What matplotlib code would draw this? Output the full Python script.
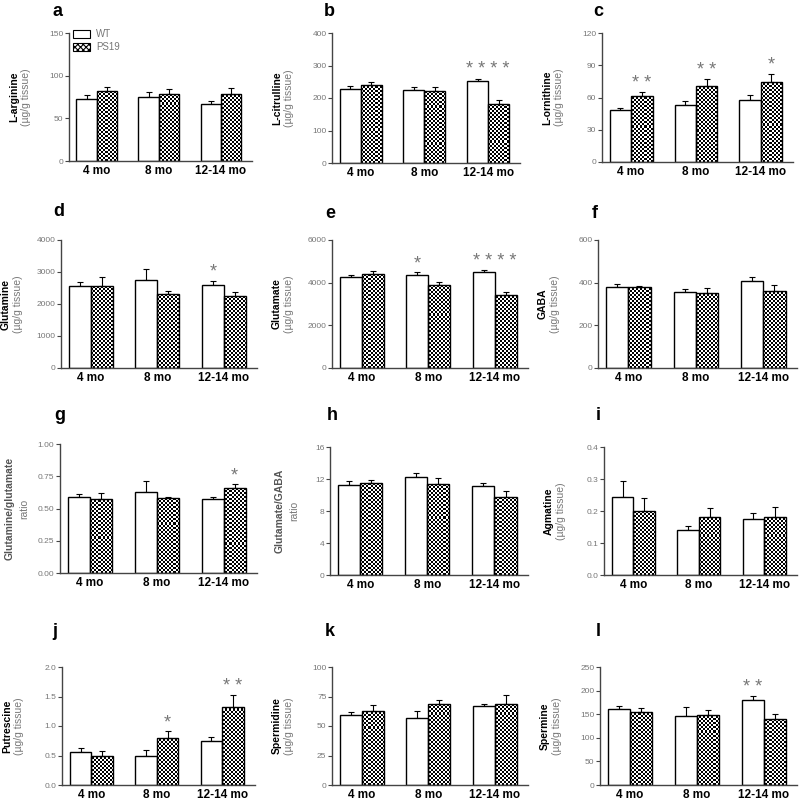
import matplotlib
matplotlib.use("Agg")
import matplotlib.pyplot as plt
import numpy as np
from matplotlib.patches import Patch

plt.rcParams["font.family"] = ["Liberation Sans", "DejaVu Sans"]
plt.rcParams["hatch.linewidth"] = 0.8

groups = ["4 mo", "8 mo", "12-14 mo"]
series = ["WT", "PS19"]
letters = ["a", "b", "c", "d", "e", "f", "g", "h", "i", "j", "k", "l"]
names = ["L-arginine", "L-citrulline", "L-ornithine", "Glutamine", "Glutamate", "GABA",
         "Glutamine/glutamate", "Glutamate/GABA", "Agmatine", "Putrescine", "Spermidine", "Spermine"]
units = ["(µg/g tissue)"] * 6 + ["ratio", "ratio"] + ["(µg/g tissue)"] * 4

# mean and SEM per panel, one entry per age group
wt_mean = [
    [73, 75, 67],
    [228, 225, 252],
    [48, 53, 58],
    [2550, 2750, 2600],
    [4250, 4350, 4500],
    [380, 355, 408],
    [0.59, 0.63, 0.57],
    [11.2, 12.3, 11.1],
    [0.245, 0.142, 0.175],
    [0.56, 0.49, 0.75],
    [59, 57, 67],
    [160, 146, 181],
]
wt_sem = [
    [4, 6, 3],
    [8, 10, 8],
    [2, 4, 4],
    [130, 350, 120],
    [120, 150, 100],
    [12, 15, 18],
    [0.02, 0.08, 0.02],
    [0.5, 0.5, 0.4],
    [0.05, 0.01, 0.02],
    [0.06, 0.10, 0.06],
    [3, 6, 2],
    [8, 20, 8],
]
ps19_mean = [
    [82, 79, 78],
    [240, 222, 183],
    [61, 71, 74],
    [2550, 2300, 2250],
    [4400, 3900, 3400],
    [378, 350, 360],
    [0.57, 0.58, 0.66],
    [11.5, 11.4, 9.7],
    [0.200, 0.182, 0.182],
    [0.50, 0.79, 1.33],
    [63, 69, 69],
    [154, 149, 139],
]
ps19_sem = [
    [5, 5, 8],
    [10, 12, 12],
    [4, 6, 8],
    [300, 100, 120],
    [150, 150, 180],
    [8, 25, 30],
    [0.05, 0.01, 0.03],
    [0.4, 0.7, 0.8],
    [0.040, 0.027, 0.030],
    [0.08, 0.12, 0.19],
    [5, 3, 7],
    [10, 10, 12],
]
y_ticks = [
    [0, 50, 100, 150],
    [0, 100, 200, 300, 400],
    [0, 30, 60, 90, 120],
    [0, 1000, 2000, 3000, 4000],
    [0, 2000, 4000, 6000],
    [0, 200, 400, 600],
    [0.0, 0.25, 0.5, 0.75, 1.0],
    [0, 4, 8, 12, 16],
    [0.0, 0.1, 0.2, 0.3, 0.4],
    [0.0, 0.5, 1.0, 1.5, 2.0],
    [0, 25, 50, 75, 100],
    [0, 50, 100, 150, 200, 250],
]
y_fmt = ["{:.0f}"] * 6 + ["{:.2f}", "{:.0f}", "{:.1f}", "{:.1f}", "{:.0f}", "{:.0f}"]
# significance marks: (group index, bar it sits over, label)
stars = [
    [],
    [(2, "both", "* * * *")],
    [(0, "PS19", "* *"), (1, "PS19", "* *"), (2, "PS19", "*")],
    [(2, "WT", "*")],
    [(1, "WT", "*"), (2, "both", "* * * *")],
    [],
    [(2, "PS19", "*")],
    [],
    [],
    [(1, "PS19", "*"), (2, "PS19", "* *")],
    [],
    [(2, "WT", "* *")],
]

# axes frames in pixels: left, right, top, bottom
frames = [
    (69, 252, 33, 161), (332, 520, 33, 163), (602, 793, 33, 162),
    (61, 257, 240, 368), (332, 528, 240, 368), (598, 797, 240, 368),
    (60, 257, 444, 573), (330, 528, 447, 575), (604, 797, 447, 575),
    (62, 255, 667, 785), (332, 528, 667, 785), (600, 797, 667, 785),
]
letter_xy = [
    (58, 11), (329, 11), (598, 11),
    (59, 212), (330, 213), (595, 213),
    (60, 416), (332, 416), (598, 416),
    (55, 631), (330, 631), (598, 631),
]

W = H = 800
GREY = "#777777"
AXIS = "#444444"
BAR_W = 0.33

fig = plt.figure(figsize=(8, 8), dpi=100)


def checker(ax, bars):
    """fill bars with a fine black/white checkerboard"""
    pos = ax.get_position()
    nx = int(pos.width * W / 2)
    ny = int(pos.height * H / 2)
    board = np.add.outer(np.arange(ny), np.arange(nx)) % 2
    x0, x1 = ax.get_xlim()
    y0, y1 = ax.get_ylim()
    for b in bars:
        im = ax.imshow(board, cmap="gray", vmin=0, vmax=1, extent=(x0, x1, y0, y1),
                       origin="lower", interpolation="nearest", aspect="auto", zorder=1.5)
        im.set_clip_path(b)
    ax.set_xlim(x0, x1)
    ax.set_ylim(y0, y1)


x = np.arange(len(groups))
for i in range(12):
    l, r, t, b = frames[i]
    ax = fig.add_axes([l / W, 1 - b / H, (r - l) / W, (b - t) / H])
    ax.set_xlim(-0.45, 2.5)
    ax.set_ylim(0, y_ticks[i][-1])

    wt = ax.bar(x - BAR_W / 2, wt_mean[i], BAR_W, facecolor="white", edgecolor="black",
                linewidth=1, zorder=2)
    ps = ax.bar(x + BAR_W / 2, ps19_mean[i], BAR_W, facecolor="none", edgecolor="black",
                linewidth=1, zorder=2)
    checker(ax, ps)
    ax.errorbar(x - BAR_W / 2, wt_mean[i], yerr=[np.zeros(3), wt_sem[i]], fmt="none",
                ecolor="black", elinewidth=0.8, capsize=2.5, capthick=0.8, zorder=1.8)
    ax.errorbar(x + BAR_W / 2, ps19_mean[i], yerr=[np.zeros(3), ps19_sem[i]], fmt="none",
                ecolor="black", elinewidth=0.8, capsize=2.5, capthick=0.8, zorder=1.8)

    for g, which, txt in stars[i]:
        top_wt = wt_mean[i][g] + wt_sem[i][g]
        top_ps = ps19_mean[i][g] + ps19_sem[i][g]
        if which == "WT":
            xs, ys = g - BAR_W / 2, top_wt
        elif which == "PS19":
            xs, ys = g + BAR_W / 2, top_ps
        else:
            xs, ys = g, max(top_wt, top_ps)
        ax.annotate(txt, (xs, ys), xytext=(0, 0), textcoords="offset points",
                    ha="center", va="bottom", fontsize=13, color=GREY)

    ax.set_xticks(x)
    ax.set_xticklabels(groups, fontsize=8.5, fontweight="bold")
    ax.tick_params(axis="x", length=0, pad=3)
    ax.set_yticks(y_ticks[i])
    ax.set_yticklabels([y_fmt[i].format(v) for v in y_ticks[i]])
    ax.tick_params(axis="y", direction="out", length=3, width=0.8, color=AXIS,
                   labelsize=6, labelcolor=GREY, pad=1)
    for side in ("top", "right"):
        ax.spines[side].set_visible(False)
    for side in ("left", "bottom"):
        ax.spines[side].set_color(AXIS)
        ax.spines[side].set_linewidth(1)

    ratio = units[i] == "ratio"
    d1, d2 = (-50, -36) if ratio else (-55, -43)
    ax.annotate(names[i], (0, 0.5), xycoords="axes fraction", xytext=(d1, 0),
                textcoords="offset pixels", rotation=90, ha="center", va="center",
                fontsize=7.5, fontweight="bold", color="#555555" if ratio else "black")
    ax.annotate(units[i], (0, 0.5), xycoords="axes fraction", xytext=(d2, 0),
                textcoords="offset pixels", rotation=90, ha="center", va="center",
                fontsize=7.5, color=GREY)

    lx, ly = letter_xy[i]
    fig.text(lx / W, 1 - ly / H, letters[i], ha="center", va="center",
             fontsize=13, fontweight="bold")

    if i == 0:
        handles = [Patch(facecolor="white", edgecolor="black", linewidth=0.8),
                   Patch(facecolor="white", edgecolor="black", linewidth=0.8, hatch="xxxxxx")]
        ax.legend(handles, series, loc="upper left", bbox_to_anchor=(0.0, 1.06),
                  frameon=False, fontsize=7, labelcolor=GREY, handlelength=1.8,
                  handleheight=0.9, handletextpad=0.6, labelspacing=0.3, borderaxespad=0)

fig.savefig("out.png", dpi=100, facecolor="white")
